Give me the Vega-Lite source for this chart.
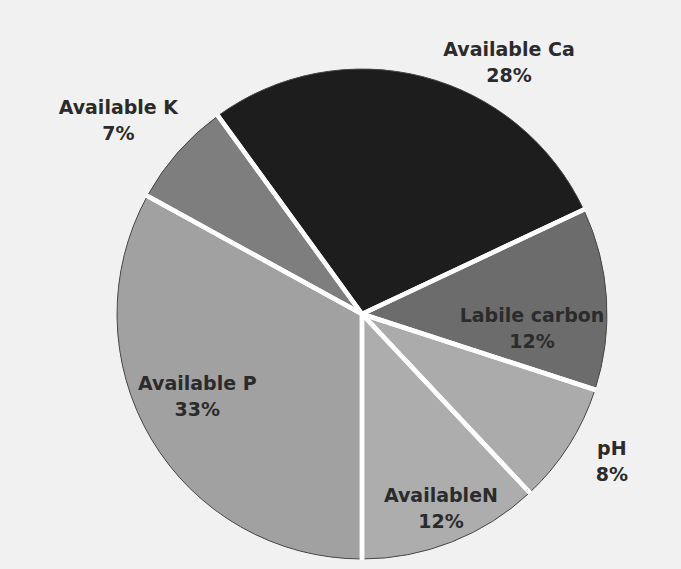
{
  "$schema": "https://vega.github.io/schema/vega-lite/v6.json",
  "width": 638,
  "height": 510,
  "autosize": {"type": "none"},
  "padding": {"left": 43, "top": 59, "right": 0, "bottom": 0},
  "background": "#f1f1f1",
  "view": {"stroke": null},
  "config": {
    "text": {"font": "DejaVu Sans", "fontWeight": "bold", "fontSize": 19, "lineBreak": "\n", "lineHeight": 26, "fill": "#2b2b2b", "align": "center", "baseline": "middle"}
  },
  "data": {
    "values": [
      {"category": "Available P", "value": 33},
      {"category": "Available K", "value": 7},
      {"category": "Available Ca", "value": 28},
      {"category": "Labile carbon", "value": 12},
      {"category": "pH", "value": 8},
      {"category": "AvailableN", "value": 12}
    ]
  },
  "transform": [
    {"window": [{"op": "row_number", "as": "idx"}]},
    {"calculate": "datum.category + '\\n' + datum.value + '%'", "as": "label"}
  ],
  "encoding": {
    "theta": {"field": "value", "type": "quantitative", "stack": true, "scale": {"range": [3.14159265, 9.42477796]}},
    "order": {"field": "idx", "type": "quantitative"}
  },
  "layer": [
    {
      "mark": {"type": "arc", "radius": 245, "stroke": "#454545", "strokeWidth": 1},
      "encoding": {
        "color": {
          "field": "category", "type": "nominal", "legend": null,
          "scale": {
            "domain": ["Available P", "Available K", "Available Ca", "Labile carbon", "pH", "AvailableN"],
            "range": ["#a1a1a1", "#7e7e7e", "#1d1d1d", "#6c6c6c", "#ababab", "#adadad"]
          }
        }
      }
    },
    {
      "mark": {"type": "arc", "radius": 250, "fill": null, "fillOpacity": 0, "stroke": "white", "strokeWidth": 4.5, "strokeJoin": "round"}
    },
    {
      "transform": [{"aggregate": [{"op": "sum", "field": "value", "as": "value"}, {"op": "min", "field": "idx", "as": "idx"}]}],
      "mark": {"type": "arc", "radius": 250, "fill": null, "fillOpacity": 0, "stroke": "#f1f1f1", "strokeWidth": 8}
    },
    {
      "mark": {"type": "text", "radius": 179, "thetaOffset": 0.131},
      "encoding": {
        "text": {"field": "label"},
        "opacity": {"condition": {"test": "datum.category === 'Available P'", "value": 1}, "value": 0}
      }
    },
    {
      "mark": {"type": "text", "radius": 319, "thetaOffset": -0.021},
      "encoding": {
        "text": {"field": "label"},
        "opacity": {"condition": {"test": "datum.category === 'Available K'", "value": 1}, "value": 0}
      }
    },
    {
      "mark": {"type": "text", "radius": 302, "thetaOffset": 0.257},
      "encoding": {
        "text": {"field": "label"},
        "opacity": {"condition": {"test": "datum.category === 'Available Ca'", "value": 1}, "value": 0}
      }
    },
    {
      "mark": {"type": "text", "radius": 170, "thetaOffset": 0.072},
      "encoding": {
        "text": {"field": "label"},
        "opacity": {"condition": {"test": "datum.category === 'Labile carbon'", "value": 1}, "value": 0}
      }
    },
    {
      "mark": {"type": "text", "radius": 284, "thetaOffset": -0.07},
      "encoding": {
        "text": {"field": "label"},
        "opacity": {"condition": {"test": "datum.category === 'pH'", "value": 1}, "value": 0}
      }
    },
    {
      "mark": {"type": "text", "radius": 198, "thetaOffset": -0.033},
      "encoding": {
        "text": {"field": "label"},
        "opacity": {"condition": {"test": "datum.category === 'AvailableN'", "value": 1}, "value": 0}
      }
    }
  ]
}
